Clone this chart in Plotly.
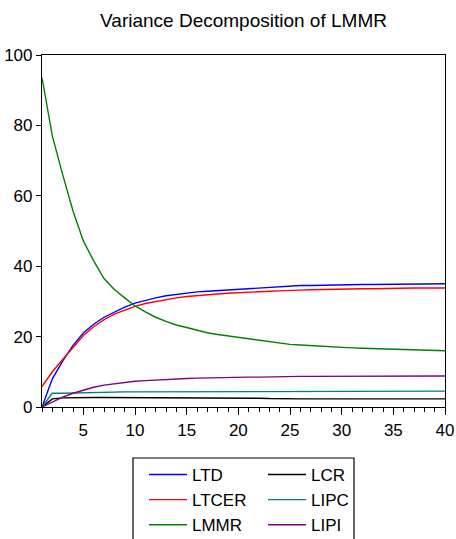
import plotly.graph_objects as go

periods = list(range(1, 41))

LTD = [0, 8, 13, 17.5, 21, 23.5, 25.5, 27, 28.4, 29.5,
       30.3, 31.0, 31.6, 32.0, 32.4, 32.7, 32.9, 33.1, 33.3, 33.5,
       33.7, 33.9, 34.1, 34.3, 34.4, 34.5, 34.5, 34.6, 34.6, 34.7,
       34.7, 34.8, 34.8, 34.8, 34.9, 34.9, 34.9, 35.0, 35.0, 35.0]
LTCER = [5.8, 10, 13.5, 17, 20.3, 22.8, 24.8, 26.4, 27.6, 28.6,
         29.4, 30.0, 30.5, 31.0, 31.4, 31.7, 31.9, 32.1, 32.3, 32.5,
         32.6, 32.8, 32.9, 33.0, 33.2, 33.2, 33.3, 33.4, 33.4, 33.5,
         33.5, 33.6, 33.6, 33.7, 33.7, 33.7, 33.8, 33.8, 33.8, 33.8]
LMMR = [93.6, 77.0, 66, 55.7, 47.2, 41.5, 36.5, 33.4, 31, 28.7,
        27, 25.5, 24.3, 23.3, 22.6, 21.8, 21.1, 20.6, 20.2, 19.9,
        19.4, 18.9, 18.5, 18.1, 17.8, 17.6, 17.4, 17.2, 17.0, 16.9,
        16.8, 16.7, 16.6, 16.5, 16.4, 16.3, 16.2, 16.1, 16.1, 16.0]
LCR = [0, 2.3, 2.6, 2.7, 2.7, 2.7, 2.7, 2.7, 2.7, 2.7,
       2.6, 2.5, 2.5, 2.5, 2.5, 2.5, 2.5, 2.5, 2.5, 2.5,
       2.5, 2.5, 2.4, 2.3, 2.3, 2.3, 2.3, 2.3, 2.3, 2.3,
       2.3, 2.3, 2.3, 2.3, 2.3, 2.3, 2.3, 2.3, 2.3, 2.3]
LIPC = [0, 3.9, 3.9, 4.0, 4.1, 4.1, 4.2, 4.2, 4.3, 4.3,
        4.3, 4.3, 4.4, 4.4, 4.4, 4.4, 4.4, 4.4, 4.4, 4.4,
        4.4, 4.4, 4.4, 4.4, 4.4, 4.5, 4.5, 4.5, 4.5, 4.5,
        4.5, 4.5, 4.5, 4.5, 4.5, 4.5, 4.5, 4.5, 4.5, 4.5]
LIPI = [0, 1.5, 2.8, 3.9, 4.8, 5.6, 6.2, 6.6, 7.0, 7.3,
        7.5, 7.7, 7.9, 8.0, 8.1, 8.2, 8.3, 8.3, 8.4, 8.5,
        8.5, 8.5, 8.6, 8.6, 8.7, 8.7, 8.7, 8.7, 8.7, 8.7,
        8.7, 8.7, 8.7, 8.8, 8.8, 8.8, 8.8, 8.8, 8.8, 8.8]

series = [
    ("LTD", LTD, "#0000FF", "legend", 1),
    ("LTCER", LTCER, "#FF0000", "legend", 2),
    ("LMMR", LMMR, "#008000", "legend", 3),
    ("LCR", LCR, "#000000", "legend2", 1),
    ("LIPC", LIPC, "#008080", "legend2", 2),
    ("LIPI", LIPI, "#800080", "legend2", 3),
]

W, H = 456, 539
fig = go.Figure()
for name, vals, color, leg, rank in series:
    fig.add_trace(go.Scatter(x=periods, y=vals, mode="lines", name=name,
                             line=dict(color=color, width=1.4),
                             legend=leg, legendrank=rank))

fam = "Liberation Sans, Arial, sans-serif"
font = dict(family=fam, size=17, color="#000000")
legstyle = dict(font=font, bgcolor="rgba(0,0,0,0)", borderwidth=0,
                orientation="v", yanchor="top", xanchor="left",
                xref="container", yref="container",
                tracegroupgap=0, itemwidth=38)

fig.update_layout(
    width=W, height=H,
    margin=dict(l=42, r=11, t=55, b=132, autoexpand=False),
    paper_bgcolor="white", plot_bgcolor="white",
    font=font,
    title=dict(text="Variance Decomposition of LMMR", x=0.5, xref="paper",
               y=1 - 20 / H, yref="container", yanchor="middle",
               font=dict(size=19, family=fam, color="#000")),
    xaxis=dict(range=[1, 40], tickvals=[5, 10, 15, 20, 25, 30, 35, 40],
               ticks="outside", ticklen=7, tickcolor="#000", showgrid=False,
               zeroline=False, showline=True, linecolor="#000", linewidth=1.2, mirror=True,
               minor=dict(dtick=1, tick0=1, ticks="outside", ticklen=4, tickcolor="#000", showgrid=False),
               tickfont=font, automargin=False),
    yaxis=dict(range=[0, 100], tickvals=[0, 20, 40, 60, 80, 100],
               ticks="outside", ticklen=5, tickcolor="#000", showgrid=False,
               zeroline=False, showline=True, linecolor="#000", linewidth=1.2, mirror=True,
               tickfont=font, automargin=False),
    legend=dict(x=144 / W, y=1 - 457 / H, **legstyle),
    legend2=dict(x=263 / W, y=1 - 457 / H, **legstyle),
    shapes=[dict(type="rect", xref="paper", yref="paper",
                 x0=(133 - 42) / 403, x1=(354 - 42) / 403,
                 y0=(407 - 458) / 352, y1=(407 - 560) / 352,
                 line=dict(color="#000", width=1.2), fillcolor="rgba(0,0,0,0)")],
)

fig.write_html("out.html")
